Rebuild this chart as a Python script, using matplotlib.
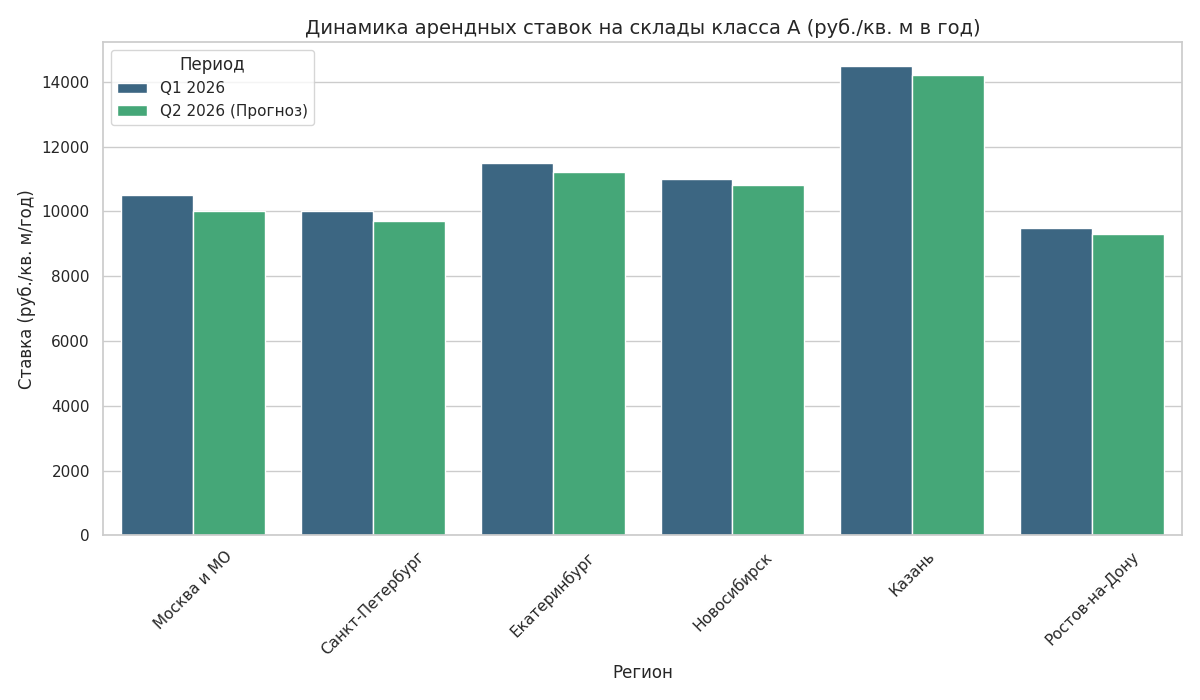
import pandas as pd
import seaborn as sns
import matplotlib
matplotlib.use('Agg')
import matplotlib.pyplot as plt

regions = ['Москва и МО', 'Санкт-Петербург', 'Екатеринбург', 'Новосибирск', 'Казань', 'Ростов-на-Дону']
q1 = [10500, 10000, 11500, 11000, 14500, 9500]
q2 = [10000, 9700, 11200, 10800, 14200, 9300]
periods = ['Q1 2026', 'Q2 2026 (Прогноз)']

df = pd.DataFrame({
    'Регион': regions * 2,
    'Ставка': q1 + q2,
    'Период': [periods[0]] * len(regions) + [periods[1]] * len(regions),
})

sns.set_theme(style='whitegrid')
fig, ax = plt.subplots(figsize=(12, 7), dpi=100)
sns.barplot(data=df, x='Регион', y='Ставка', hue='Период', palette='viridis', ax=ax)

ax.set_title('Динамика арендных ставок на склады класса А (руб./кв. м в год)', fontsize=14)
ax.set_xlabel('Регион', fontsize=12)
ax.set_ylabel('Ставка (руб./кв. м/год)', fontsize=12)
plt.xticks(rotation=45)
ax.legend(title='Период', loc='upper left')
plt.tight_layout()
plt.savefig('out.png')
